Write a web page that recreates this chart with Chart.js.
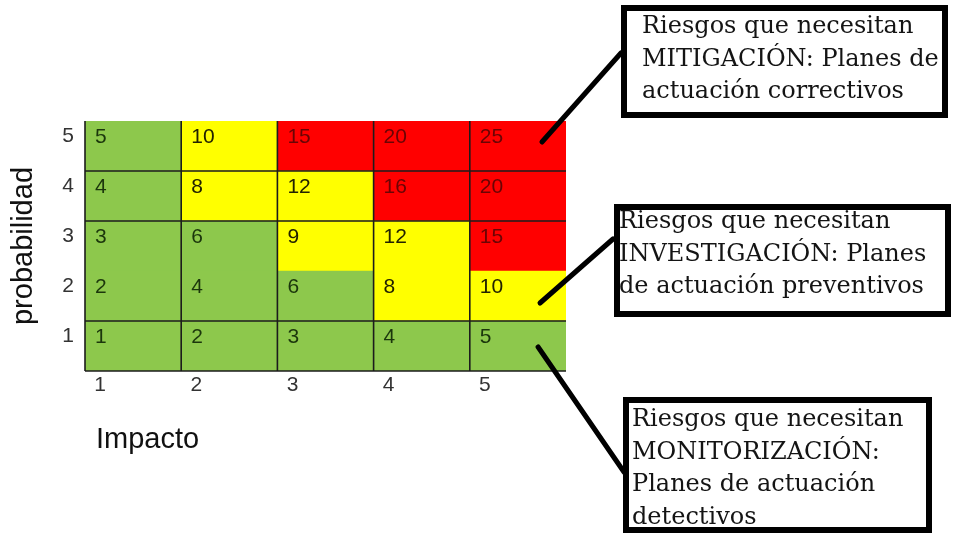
<!DOCTYPE html>
<html>
<head>
<meta charset="utf-8">
<script src="https://cdn.jsdelivr.net/npm/chart.js@4.4.1/dist/chart.umd.min.js"></script>
<style>
  body { margin: 0; background: #fff; }
  #wrap { width: 958px; height: 535px; }
</style>
</head>
<body>
<div id="wrap"><canvas id="matriz" width="958" height="535"></canvas></div>
<script>
// Matriz de riesgos: impacto (columnas) x probabilidad (filas)
var impacto = ['1', '2', '3', '4', '5'];
var probabilidad = ['1', '2', '3', '4', '5'];

// valores[fila] -> fila 0 = probabilidad 1
var valores = [
  [1, 2, 3, 4, 5],
  [2, 4, 6, 8, 10],
  [3, 6, 9, 12, 15],
  [4, 8, 12, 16, 20],
  [5, 10, 15, 20, 25]
];

// D = monitorizacion (detectivos), P = investigacion (preventivos), C = mitigacion (correctivos)
var nivel = [
  ['D', 'D', 'D', 'D', 'D'],
  ['D', 'D', 'D', 'P', 'P'],
  ['D', 'D', 'P', 'P', 'C'],
  ['D', 'P', 'P', 'C', 'C'],
  ['D', 'P', 'C', 'C', 'C']
];

// filas 2 y 3 van unidas en la tabla: no hay linea entre ellas
var lineasFila = [0, 1, 3, 4];

var colores = { D: '#8dc84c', P: '#ffff00', C: '#ff0000' };
var coloresTexto = { D: '#1b360c', P: '#222200', C: '#6a0404' };

var cajas = [
  { texto: ['Riesgos que necesitan', 'MITIGACIÓN: Planes de', 'actuación correctivos'],
    rect: [624, 8, 945, 115], tx: 642, ty: 27, desde: [4.25, 4.58], hasta: [621, 53] },
  { texto: ['Riesgos que necesitan', 'INVESTIGACIÓN: Planes', 'de actuación preventivos'],
    rect: [617, 207, 948, 314], tx: 619, ty: 222, desde: [4.23, 1.36], hasta: [613, 239] },
  { texto: ['Riesgos que necesitan', 'MONITORIZACIÓN:', 'Planes de actuación', 'detectivos'],
    rect: [626, 400, 929, 530], tx: 632, ty: 420, desde: [4.21, 0.48], hasta: [624, 472] }
];

// un dataset por fila de probabilidad, barras flotantes [p-1, p]
var datasets = probabilidad.map(function (p, fila) {
  return {
    label: 'probabilidad ' + p,
    data: impacto.map(function () { return [fila, fila + 1]; }),
    backgroundColor: nivel[fila].map(function (n) { return colores[n]; }),
    borderWidth: 0,
    grouped: false,
    barPercentage: 1,
    categoryPercentage: 1
  };
});

var celdas = {
  id: 'celdas',
  afterDatasetsDraw: function (chart) {
    var ctx = chart.ctx;
    var ys = chart.scales.y;
    ctx.save();
    // numeros de cada celda
    ctx.font = '21px "Liberation Sans", Arial, sans-serif';
    ctx.textAlign = 'left';
    ctx.textBaseline = 'middle';
    chart.data.datasets.forEach(function (ds, fila) {
      chart.getDatasetMeta(fila).data.forEach(function (bar, col) {
        ctx.fillStyle = coloresTexto[nivel[fila][col]];
        ctx.fillText(String(valores[fila][col]), bar.x - bar.width / 2 + 10, bar.y + 16);
      });
    });
    // lineas de la tabla
    ctx.strokeStyle = '#1c1c1c';
    ctx.lineWidth = 1.6;
    var meta0 = chart.getDatasetMeta(0).data;
    var izq = meta0[0].x - meta0[0].width / 2;
    var der = meta0[meta0.length - 1].x + meta0[meta0.length - 1].width / 2;
    var arriba = ys.getPixelForValue(5), abajo = ys.getPixelForValue(0);
    ctx.beginPath();
    meta0.forEach(function (bar) {
      var x = bar.x - bar.width / 2;
      ctx.moveTo(x, arriba);
      ctx.lineTo(x, abajo);
    });
    lineasFila.forEach(function (v) {
      var y = ys.getPixelForValue(v);
      ctx.moveTo(izq, y);
      ctx.lineTo(der, y);
    });
    ctx.stroke();
    ctx.restore();
  },
  afterDraw: function (chart) {
    var ctx = chart.ctx;
    var xs = chart.scales.x, ys = chart.scales.y;
    ctx.save();
    // titulo del eje x
    ctx.fillStyle = '#111';
    ctx.font = '29px "Liberation Sans", Arial, sans-serif';
    ctx.textAlign = 'left';
    ctx.textBaseline = 'middle';
    ctx.fillText('Impacto', 96, 440);
    // cajas de texto y flechas
    cajas.forEach(function (c) {
      ctx.strokeStyle = '#000';
      ctx.lineWidth = 5;
      ctx.lineCap = 'round';
      ctx.beginPath();
      ctx.moveTo(xs.getPixelForValue(c.desde[0]), ys.getPixelForValue(c.desde[1]));
      ctx.lineTo(c.hasta[0], c.hasta[1]);
      ctx.stroke();
      ctx.lineCap = 'butt';
      ctx.lineWidth = 6;
      ctx.fillStyle = '#fff';
      var r = c.rect;
      ctx.fillRect(r[0], r[1], r[2] - r[0], r[3] - r[1]);
      ctx.strokeRect(r[0], r[1], r[2] - r[0], r[3] - r[1]);
      ctx.fillStyle = '#141414';
      ctx.font = '24px "DejaVu Serif", serif';
      c.texto.forEach(function (t, i) {
        ctx.fillText(t, c.tx, c.ty + i * 32.5, r[2] - c.tx - 4);
      });
    });
    ctx.restore();
  }
};

new Chart(document.getElementById('matriz'), {
  type: 'bar',
  data: { labels: impacto, datasets: datasets },
  plugins: [celdas],
  options: {
    responsive: false,
    animation: false,
    layout: { padding: { left: 7, top: 121, right: 392, bottom: 0 } },
    plugins: { legend: { display: false }, tooltip: { enabled: false } },
    scales: {
      x: {
        type: 'category',
        grid: { display: false, drawTicks: false },
        border: { display: false },
        ticks: {
          color: '#333',
          font: { family: '"Liberation Sans", Arial, sans-serif', size: 21 },
          padding: 2,
          labelOffset: -33
        },
        afterFit: function (s) { s.height = 164; }
      },
      y: {
        type: 'linear',
        min: 0,
        max: 5,
        grid: { display: false, drawTicks: false },
        border: { display: false },
        ticks: {
          stepSize: 1,
          color: '#333',
          font: { family: '"Liberation Sans", Arial, sans-serif', size: 21 },
          padding: 11,
          labelOffset: 15,
          callback: function (v) { return v === 0 ? '' : probabilidad[v - 1]; }
        },
        title: {
          display: true,
          text: 'probabilidad',
          color: '#111',
          font: { family: '"Liberation Sans", Arial, sans-serif', size: 29 },
          padding: { top: 0, bottom: 0 }
        },
        afterFit: function (s) { s.width = 78; }
      }
    }
  }
});
</script>
</body>
</html>
